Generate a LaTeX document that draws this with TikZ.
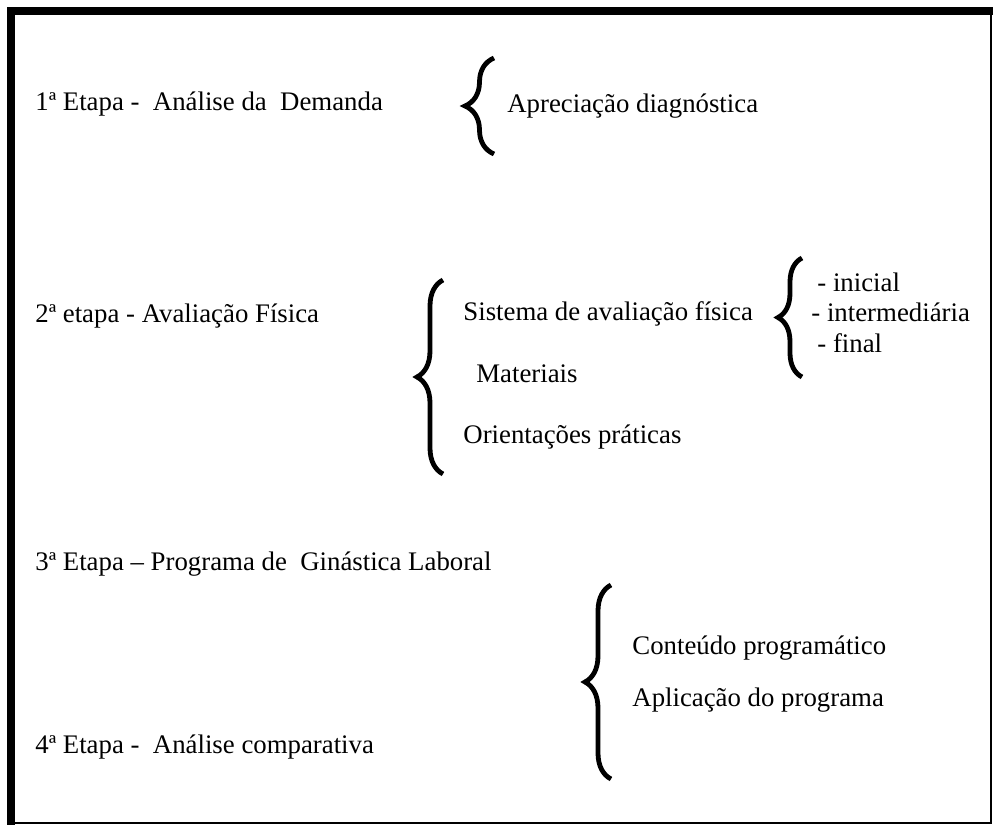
\documentclass[tikz,border=0pt]{standalone}
\usepackage{fontspec}
\setmainfont{Liberation Serif}
\usetikzlibrary{decorations.pathreplacing}

\begin{document}
\begin{tikzpicture}[x=0.5pt,y=-0.5pt,
    txt/.style={anchor=base west,inner sep=0pt,font=\fontsize{13.4}{16}\selectfont},
    brc/.style={decorate,decoration={brace,amplitude=#1},line width=2.4pt}]
      \useasboundingbox (0,0) rectangle (993,825);

      % frame
      \fill[black] (7,7) rectangle (993,15);
      \fill[black] (7,7) rectangle (15,825);
      \draw[line width=1pt] (990.5,15) -- (990.5,823) -- (15,823);

      % stages
      \node[txt] (E1) at (35,110) {1ª Etapa -\ \ Análise da\ \ Demanda};
      \node[txt] (E2) at (35,322) {2ª etapa - Avaliação Física};
      \node[txt] (E3) at (35,570) {3ª Etapa – Programa de\ \ Ginástica Laboral};
      \node[txt] (E4) at (35,753) {4ª Etapa -\ \ Análise comparativa};

      \node[txt] (A1) at (507,112) {Apreciação diagnóstica};

      \node[txt] (S1) at (463,320) {Sistema de avaliação física};
      \node[txt] (S2) at (476,382) {Materiais};
      \node[txt] (S3) at (463,443) {Orientações práticas};

      \node[txt] (F1) at (817,291) {- inicial};
      \node[txt] (F2) at (811,321) {- intermediária};
      \node[txt] (F3) at (817,352) {- final};

      \node[txt] (P1) at (632,654) {Conteúdo programático};
      \node[txt] (P2) at (632,706) {Aplicação do programa};

      % braces
      \coordinate (B1s) at (494,154);
      \coordinate (B1e) at (494,58);
      \coordinate (B2s) at (443,474);
      \coordinate (B2e) at (443,280);
      \coordinate (B3s) at (802,377);
      \coordinate (B3e) at (802,258);
      \coordinate (B4s) at (611,779);
      \coordinate (B4e) at (611,585);

      \draw[brc=14.5pt] (B1s) -- (B1e);
      \draw[brc=13pt] (B2s) -- (B2e);
      \draw[brc=12pt] (B3s) -- (B3e);
      \draw[brc=13pt] (B4s) -- (B4e);
  \end{tikzpicture}
\end{document}
